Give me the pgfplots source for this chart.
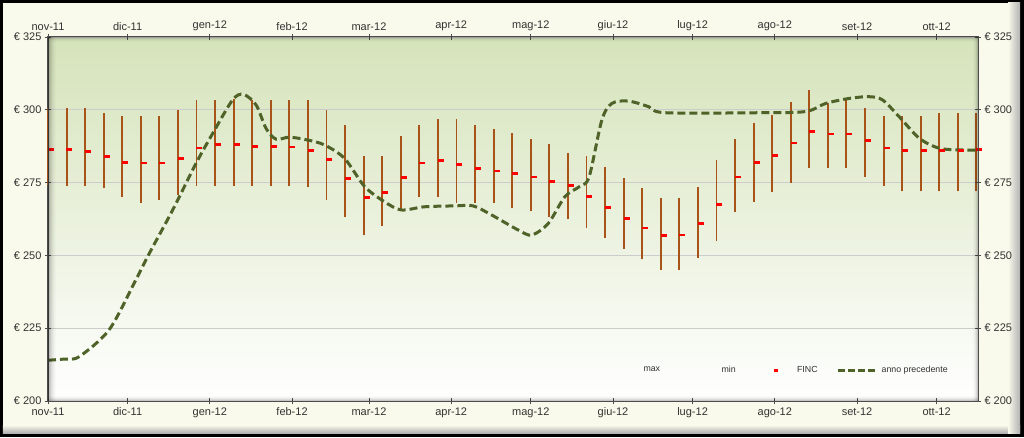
\documentclass[border=0pt]{standalone}
\usepackage{pgfplots}
\pgfplotsset{compat=1.18}
\usepackage{pgfplotstable}
\usepackage{fontspec}
\setmainfont{Liberation Sans}
\definecolor{barbrown}{RGB}{168,84,24}
\definecolor{olivec}{RGB}{79,98,40}
\definecolor{bgtop}{RGB}{213,227,186}
\definecolor{cream}{RGB}{250,250,236}
\definecolor{txt}{RGB}{50,50,50}

\pgfplotstableread{
d max min finc
0 300.5 274.2 286.3
7 300.7 274.0 286.3
14 300.7 274.0 285.8
21 298.9 273.0 284.1
28 297.8 270.1 282.0
35 297.8 268.0 281.7
42 297.8 269.0 281.7
49 299.8 270.8 283.2
56 303.5 274.0 286.9
63 303.5 274.0 288.2
70 303.8 274.0 288.2
77 303.5 274.0 287.5
84 303.5 274.0 287.5
91 303.5 273.9 287.2
98 303.5 273.4 286.0
105 299.8 269.0 283.0
112 294.8 263.1 276.3
119 284.0 257.0 269.9
126 284.0 260.2 271.5
133 290.9 265.7 276.7
140 294.9 269.9 281.7
147 296.7 270.0 282.5
154 296.7 268.0 281.2
161 294.9 268.0 279.9
168 293.3 268.0 279.0
175 291.9 266.2 278.0
182 290.1 265.1 276.9
189 288.2 263.2 275.3
196 285.0 262.5 274.1
203 284.1 259.4 270.3
210 280.5 255.9 266.4
217 276.7 252.2 262.7
224 273.1 248.6 259.4
231 269.7 245.0 256.8
238 269.7 245.0 257.0
245 273.6 249.2 261.0
252 282.7 255.1 267.6
259 290.1 265.0 276.9
266 295.5 268.4 281.8
273 298.2 271.8 284.3
280 302.6 275.0 288.6
287 306.8 280.1 292.6
294 302.3 280.1 291.7
301 303.2 280.1 291.7
308 300.7 277.0 289.5
315 297.8 274.0 286.9
322 297.8 272.0 286.0
329 297.8 272.0 286.0
336 298.8 272.0 286.1
343 298.8 272.0 286.0
350 299.0 272.0 286.3
}\bars

\pgfplotstableread{
d v
0 214.0
6.0 214.4
11.7 215.2
23.0 224.4
32.5 240.5
38.2 250.7
47.0 265.6
55.8 281.6
62.1 291.9
69.6 303.4
73.7 305.3
78.5 301.6
82.2 293.6
86.0 289.9
91.0 290.6
98.0 289.6
104.3 287.9
111.8 283.3
119.4 273.6
126.9 268.4
133.2 265.6
142.0 266.7
153.4 267.0
160.3 267.0
167.2 263.9
177.3 258.7
182.4 257.0
188.6 261.0
194.9 270.2
200.5 273.7
204.0 277.0
208.8 296.5
212.6 302.2
218.8 303.0
226.4 301.1
232.7 299.0
268.6 299.0
285.6 299.4
293.2 302.2
302.0 303.9
309.5 304.5
314.6 303.4
320.9 297.6
328.5 290.2
336.0 286.8
344.8 286.2
350.6 286.2
}\prev

\begin{document}
\begin{tikzpicture}[x=1pt,y=1pt]
\fill[black] (-48,-36) rectangle (976,401);
\fill[cream] (-45,-32) rectangle (972,398);
\shade[top color=cream, bottom color=black!30] (-45,-32) rectangle (972,-24);
\shade[left color=cream, right color=black!30] (960,-32) rectangle (972,398);
\useasboundingbox (-48,-36) rectangle (976,401);
\begin{axis}[
  at={(0,0)}, anchor=south west,
  scale only axis, width=930pt, height=364pt,
  xmin=0, xmax=350.6, ymin=200, ymax=325,
  clip=false,
  axis background/.style={top color=bgtop, bottom color=white},
  xtick={0,30,61,92,121,152,182,213,243,274,305,335},
  xticklabels={nov-11,dic-11,gen-12,feb-12,mar-12,apr-12,mag-12,giu-12,lug-12,ago-12,set-12,ott-12},
  ytick={200,225,250,275,300,325},
  yticklabels={€~200,€~225,€~250,€~275,€~300,€~325},
  xtick pos=both, ytick pos=both,
  xticklabel pos=lower, yticklabel pos=left,
  minor tick num=0,
  major tick length=6pt, tick align=center,
  tick style={black!70, line width=0.8pt},
  axis line style={black!70, line width=1pt},
  ymajorgrids, grid style={draw=black!20, line width=0.8pt},
  ticklabel style={font=\fontsize{11}{13}\selectfont, text=txt},
  legend style={draw=none, fill=none, at={(0.973,0.085)}, anchor=east,
    legend columns=4, font=\fontsize{8.8}{10}\selectfont, text=txt,
    /tikz/every even column/.append style={column sep=17pt},
    nodes={inner sep=2pt}},
  legend cell align=left,
]
\addplot[only marks, mark=*, mark size=0pt, mark options={draw=none, fill=none}, forget plot,
  error bars/.cd, y dir=plus, y explicit, error mark=none,
  error bar style={line width=1.9pt, barbrown}]
  table[x=d, y=min, y error expr=\thisrow{max}-\thisrow{min}] {\bars};
\addplot[only marks, mark=-, mark size=3pt, mark options={line width=2.8pt, red}, forget plot]
  table[x expr=\thisrow{d}+1.1, y=finc] {\bars};
\addplot[olivec, line width=3pt, dash pattern=on 8pt off 4pt, smooth, tension=0.5, forget plot]
  table[x=d, y=v] {\prev};
\addlegendimage{legend image code/.code={\path (0pt,0pt) (40pt,0pt);}}
\addlegendimage{legend image code/.code={\path (0pt,0pt) (40pt,0pt);}}
\addlegendimage{legend image code/.code={\path (0pt,0pt) (40pt,0pt); \fill[red] (19pt,-1pt) rectangle (22pt,1pt);}}
\addlegendimage{legend image code/.code={\draw[olivec, line width=3pt, dash pattern=on 7pt off 3pt] (0pt,0pt) -- (40pt,0pt);}}
\legend{max,min,FINC,anno precedente}
\end{axis}
\begin{axis}[
  at={(0,0)}, anchor=south west,
  scale only axis, width=930pt, height=364pt,
  xmin=0, xmax=350.6, ymin=200, ymax=325,
  xtick={0,30,61,92,121,152,182,213,243,274,305,335},
  xticklabels={nov-11,dic-11,gen-12,feb-12,mar-12,apr-12,mag-12,giu-12,lug-12,ago-12,set-12,ott-12},
  ytick={200,225,250,275,300,325},
  yticklabels={€~200,€~225,€~250,€~275,€~300,€~325},
  xtick pos=both, ytick pos=both,
  xticklabel pos=upper, yticklabel pos=right,
  minor tick num=0,
  major tick length=6pt, tick align=center,
  tick style={black!70, line width=0.8pt},
  axis line style={black!70, line width=1pt},
  ticklabel style={font=\fontsize{11}{13}\selectfont, text=txt},
]
\end{axis}
\foreach \i/\o in {0/0.30,1/0.24,2/0.18,3/0.13,4/0.09,5/0.06,6/0.03,7/0.015} {
  \fill[black, opacity=\o] (\i,0) rectangle (\i+1,364);
}
\foreach \i/\o in {0/0.22,1/0.14,2/0.08,3/0.04,4/0.02} {
  \fill[black, opacity=\o] (0,364-\i) rectangle (930,363-\i);
  \fill[black, opacity=\o] (930-\i,0) rectangle (929-\i,364);
  \fill[black, opacity=\o] (0,\i) rectangle (930,\i+1);
}
\end{tikzpicture}
\end{document}
